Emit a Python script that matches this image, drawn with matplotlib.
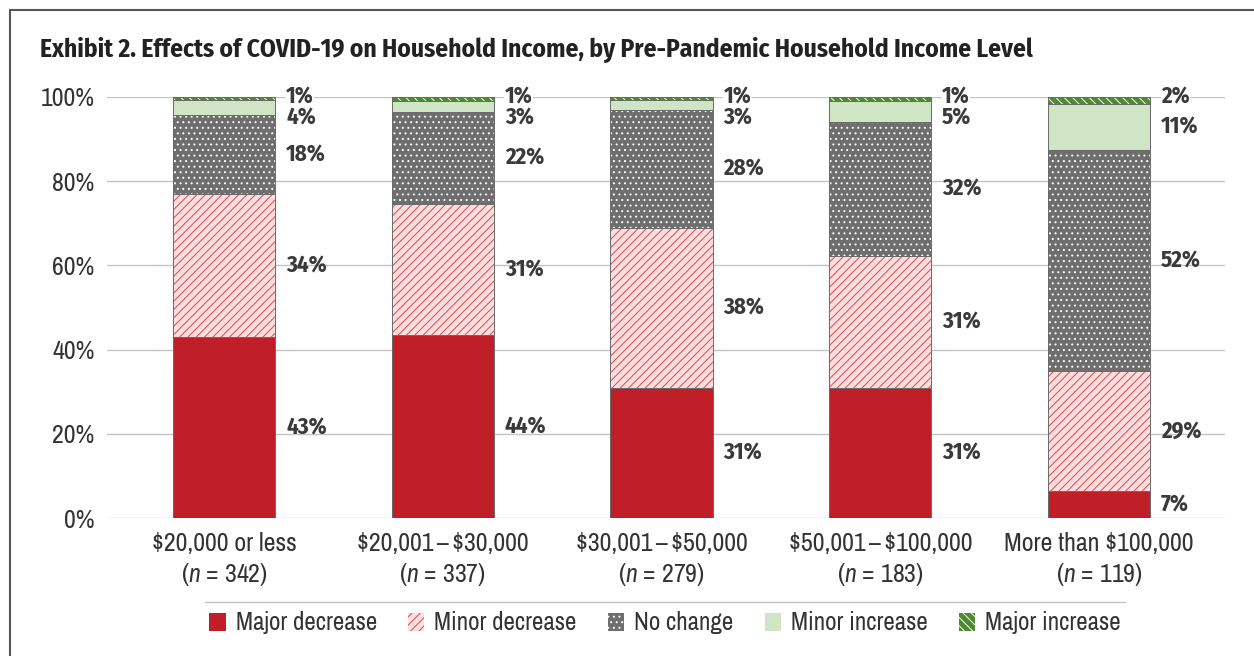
import numpy as np
import matplotlib.pyplot as plt
from matplotlib.patches import Patch, Rectangle
from matplotlib.lines import Line2D

plt.rcParams['font.family'] = ['Archivo Narrow', 'DejaVu Sans']
plt.rcParams['mathtext.fontset'] = 'custom'
plt.rcParams['mathtext.rm'] = 'Archivo Narrow'
plt.rcParams['mathtext.it'] = 'Archivo Narrow:italic'
plt.rcParams['hatch.linewidth'] = 0.7
font_bold = ['Fira Sans Condensed', 'DejaVu Sans']

# dati
categorie = ['\\$20,000 or less', '\\$20,001\u2009–\u2009\\$30,000', '\\$30,001\u2009–\u2009\\$50,000',
             '\\$50,001\u2009–\u2009\\$100,000', 'More than \\$100,000']
n_campione = [342, 337, 279, 183, 119]
serie = ['Major decrease', 'Minor decrease', 'No change', 'Minor increase', 'Major increase']
major_decrease = [43.0, 43.5, 30.9, 30.9, 6.4]
minor_decrease = [34.0, 31.1, 38.0, 31.3, 28.5]
no_change = [18.7, 21.8, 28.0, 31.9, 52.5]
minor_increase = [3.6, 2.6, 2.4, 4.9, 10.9]
major_increase = [0.7, 1.0, 0.7, 1.0, 1.7]
etichette = [
    ['43%', '44%', '31%', '31%', '7%'],
    ['34%', '31%', '38%', '31%', '29%'],
    ['18%', '22%', '28%', '32%', '52%'],
    ['4%', '3%', '3%', '5%', '11%'],
    ['1%', '1%', '1%', '1%', '2%'],
]

colori = ['#c01f28', '#fcdede', '#6e6e6e', '#d0e5c6', '#4d8a30']
colori_hatch = ['#c01f28', '#e0474d', '#ffffff', '#d0e5c6', '#ffffff']
hatches = [None, '////', '...', None, '\\\\\\\\']

valori = [major_decrease, minor_decrease, no_change, minor_increase, major_increase]

fig = plt.figure(figsize=(12.54, 6.56), dpi=100)
ax = fig.add_axes([107/1254, 1-518/656, (1225-107)/1254, (518-97)/656])

x = np.arange(len(categorie))
larghezza = 0.467
base = np.zeros(len(categorie))
for k, v in enumerate(valori):
    v = np.array(v)
    ax.bar(x, v, larghezza, bottom=base, color=colori[k], edgecolor=colori_hatch[k],
           hatch=hatches[k], linewidth=0, zorder=3)
    ax.bar(x, v, larghezza, bottom=base, fill=False, edgecolor='#6a6a6a', linewidth=0.7, zorder=4)
    centri = base + v / 2
    for i in range(len(x)):
        y = centri[i]
        z = 5
        if k == 3:
            # etichette piccole spostate per non sovrapporsi
            y = min(y, 95.0)
            z = 6
        if k == 4:
            y = max(y, 100.0)
        sfondo = dict(facecolor='white', edgecolor='none', pad=0.3) if k == 4 else None
        ax.text(x[i] + larghezza/2 + 0.05, y, etichette[k][i], ha='left', va='center',
                fontsize=16.5, fontweight='bold', family=font_bold, color='#3a3a3a', zorder=z,
                bbox=sfondo)
    base = base + v

ax.set_ylim(0, 100)
ax.set_xlim(-0.535, 4.576)
ax.set_yticks([0, 20, 40, 60, 80, 100])
ax.set_yticklabels(['0%', '20%', '40%', '60%', '80%', '100%'])
ax.yaxis.grid(True, color='#c4c4c4', linewidth=1, zorder=0)
ax.set_axisbelow(True)
ax.set_xticks(x)
ax.set_xticklabels([f'{c}\n($n$ = {n})' for c, n in zip(categorie, n_campione)],
                   linespacing=1.3)
ax.tick_params(axis='both', length=0, labelsize=18.7, colors='#333333')
ax.tick_params(axis='y', pad=9)
ax.tick_params(axis='x', pad=10)
for s in ax.spines.values():
    s.set_visible(False)

fig.text(40/1254, 1-50/656, 'Exhibit 2. Effects of COVID-19 on Household Income, by Pre-Pandemic Household Income Level',
         fontsize=18.3, fontweight='bold', family=font_bold, color='#222222', va='center', ha='left')

# cornice
fig.add_artist(Rectangle((10/1254, -0.1), 1.2, 1.1 - 10/656, transform=fig.transFigure,
                         fill=False, edgecolor='#555555', linewidth=1.5))

# legenda
fig.add_artist(Line2D([205/1254, 1125/1254], [1-602/656, 1-602/656], transform=fig.transFigure,
                      color='#c4c4c4', linewidth=1))
maniglie = [Patch(facecolor=colori[k], edgecolor=colori_hatch[k], hatch=hatches[k], linewidth=0)
            for k in range(len(serie))]
fig.legend(maniglie, serie, loc='center', bbox_to_anchor=(665/1254, 1-623/656), ncol=5,
           frameon=False, fontsize=18, handlelength=0.65, handleheight=0.75, handletextpad=0.4,
           columnspacing=1.25, labelcolor='#333333')

fig.savefig('out.png', dpi=100)
